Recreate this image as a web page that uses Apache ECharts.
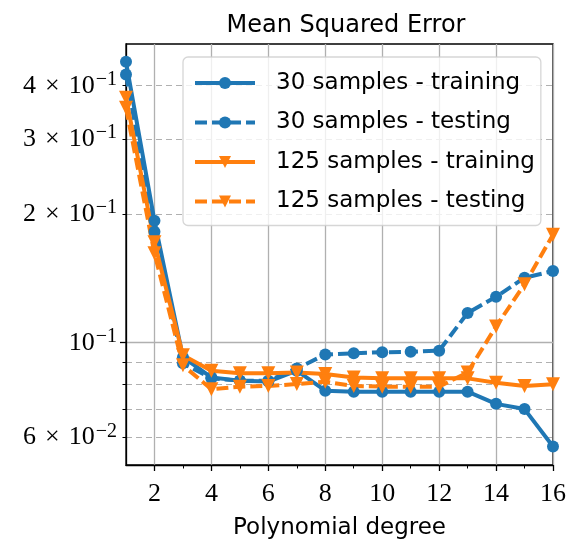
<!DOCTYPE html>
<html>
<head>
<meta charset="utf-8">
<script src="https://cdn.jsdelivr.net/npm/echarts@6/dist/echarts.min.js"></script>
<style>
html,body{margin:0;padding:0;background:#fff;}
#c{width:569px;height:545px;}
</style>
</head>
<body>
<div id="c"></div>
<script>
// ---- data ----
const degrees = [1,2,3,4,5,6,7,8,9,10,11,12,13,14,15,16];
const train30 = [0.455,0.193,0.0925,0.0829,0.0815,0.0811,0.0860,0.0772,0.0768,0.0768,0.0768,0.0768,0.0768,0.0719,0.0699,0.0571];
const test30  = [0.425,0.182,0.0895,0.0825,0.0815,0.0815,0.0870,0.0938,0.0945,0.0950,0.0952,0.0958,0.1174,0.1281,0.1420,0.1472];
const train125 = [0.375,0.172,0.0935,0.0860,0.0848,0.0848,0.0852,0.0845,0.0829,0.0825,0.0825,0.0825,0.0825,0.0806,0.0792,0.0799];
const test125  = [0.355,0.162,0.0885,0.0778,0.0789,0.0792,0.0800,0.0810,0.0792,0.0789,0.0789,0.0789,0.0852,0.1092,0.1370,0.1790];
const seriesNames = ['30 samples - training','30 samples - testing','125 samples - training','125 samples - testing'];
const xTickLabels = [2,4,6,8,10,12,14,16];
const xMinorTicks = [3,5,7,9,11,13,15];
const yTickValues = [0.06,0.1,0.2,0.3,0.4];
const yTickMant = ['6','','2','3','4'];
const yTickExp = ['−2','−1','−1','−1','−1'];
const yMinorTicks = [0.06,0.07,0.08,0.09,0.2,0.3,0.4];
const yMajorTicks = [0.1];

const BLUE = '#1f77b4', ORANGE = '#ff7f0e';
const SANS = 'DejaVu Sans', SERIF = 'Liberation Serif';
const YMIN = 0.0517, YMAX = 0.501;

function pairs(v){ return degrees.map((d,i)=>[d,v[i]]); }
function mk(name, vals, color, dashed, sym){
  return {
    name: name, type: 'line', data: pairs(vals), xAxisIndex: 0, yAxisIndex: 0,
    symbol: sym, symbolSize: sym === 'circle' ? 12 : 14, symbolRotate: sym === 'circle' ? 0 : 180,
    lineStyle: {color: color, width: 4, type: dashed ? [12,5] : 'solid'},
    itemStyle: {color: color}, emphasis: {disabled: true}, animation: false
  };
}
function yFmt(v){
  let best = 0, bd = 1e9;
  yTickValues.forEach((t,i)=>{ const d = Math.abs(Math.log(v/t)); if (d < bd){bd = d; best = i;} });
  const mant = yTickMant[best];
  return (mant ? '{m|' + mant + '}{x|×}' : '') + '{m|10}{e|' + yTickExp[best] + '}';
}
const chart = echarts.init(document.getElementById('c'), null, {renderer: 'canvas'});
const gridLine = '#b0b0b0';
chart.setOption({
  animation: false,
  backgroundColor: '#fff',
  title: {text: 'Mean Squared Error', left: 341, top: 9, textAlign: 'center',
    textStyle: {fontFamily: SANS, fontSize: 24, fontWeight: 'normal', color: '#000'}},
  grid: {left: 126, right: 13, top: 44, bottom: 75, show: true, borderColor: '#000', borderWidth: 1.3, backgroundColor: 'transparent'},
  legend: {
    orient: 'vertical', left: 183, top: 57,
    data: seriesNames,
    itemWidth: 60, itemHeight: 15, itemGap: 13.5,
    padding: [13, 6, 11, 10],
    lineStyle: {width: 4},
    backgroundColor: 'rgba(255,255,255,0.8)', borderColor: 'rgba(204,204,204,0.8)', borderWidth: 1.3, borderRadius: 5,
    textStyle: {fontFamily: SANS, fontSize: 23, color: '#000', lineHeight: 26, padding: [0,0,0,16]},
    selectedMode: false
  },
  xAxis: [
    {type: 'value', min: 1, max: 16, position: 'bottom',
     name: 'Polynomial degree', nameLocation: 'middle', nameGap: 52,
     nameTextStyle: {fontFamily: SANS, fontSize: 23, color: '#000'},
     axisLine: {show: true, onZero: false, lineStyle: {color: '#000', width: 1.3}},
     axisTick: {show: true, customValues: xTickLabels, length: 6, lineStyle: {color: '#000', width: 1.3}},
     axisLabel: {customValues: xTickLabels, fontFamily: SERIF, fontSize: 26, color: '#000', margin: 16},
     splitLine: {show: true, lineStyle: {color: gridLine, width: 1.3}}},
    {type: 'value', min: 1, max: 16, position: 'bottom',
     axisLine: {show: false},
     axisTick: {show: true, customValues: xMinorTicks, length: 3.5, lineStyle: {color: '#000', width: 1}},
     axisLabel: {show: false}, splitLine: {show: false}}
  ],
  yAxis: [
    {type: 'log', logBase: 10, min: YMIN, max: YMAX, position: 'left',
     axisLine: {show: true, lineStyle: {color: '#000', width: 1.3}},
     axisTick: {show: true, customValues: yMajorTicks, length: 6, lineStyle: {color: '#000', width: 1.3}},
     axisLabel: {customValues: yTickValues, formatter: yFmt, margin: 9,
       rich: {m: {fontFamily: SERIF, fontSize: 26, color: '#000', lineHeight: 32},
              x: {fontFamily: SERIF, fontSize: 26, color: '#000', lineHeight: 32, padding: [0,9,0,9]},
              e: {fontFamily: SERIF, fontSize: 20, color: '#000', verticalAlign: 'top', lineHeight: 18, padding: [0,0,0,1]}}},
     splitLine: {show: true, lineStyle: {color: gridLine, width: 1.3}}},
    {type: 'log', logBase: 10, min: YMIN, max: YMAX, position: 'left',
     axisLine: {show: false},
     axisTick: {show: true, customValues: yMinorTicks, length: 3.5, lineStyle: {color: '#000', width: 1}},
     axisLabel: {show: false},
     splitLine: {show: true, lineStyle: {color: gridLine, width: 1.1, type: [6,4]}}}
  ],
  series: [
    mk(seriesNames[0], train30, BLUE, false, 'circle'),
    mk(seriesNames[1], test30, BLUE, true, 'circle'),
    mk(seriesNames[2], train125, ORANGE, false, 'triangle'),
    mk(seriesNames[3], test125, ORANGE, true, 'triangle')
  ]
});
</script>
</body>
</html>
